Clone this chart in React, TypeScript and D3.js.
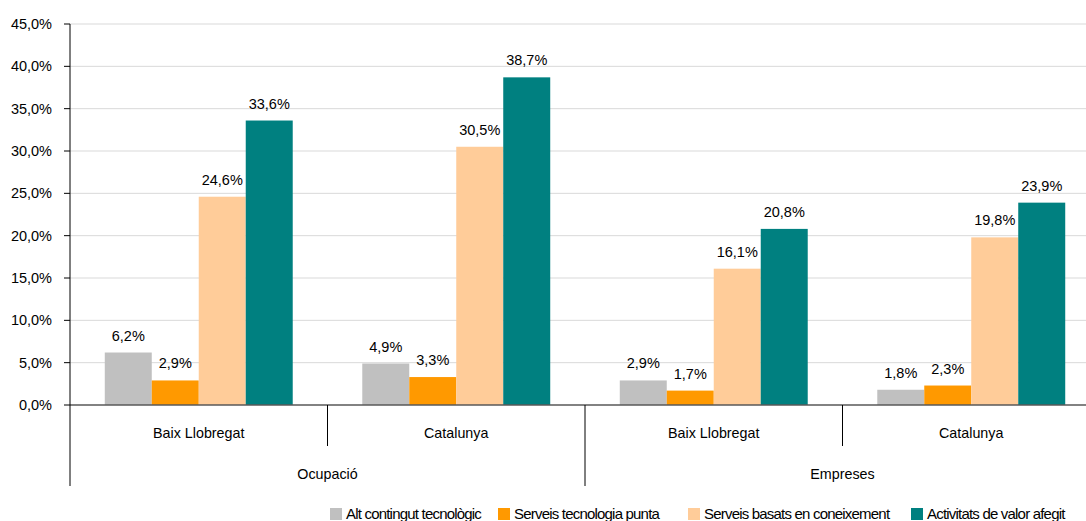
import React from "react";
import * as d3 from "d3";

const groups = ["Ocupació", "Empreses"];
const subcats = ["Baix Llobregat", "Catalunya"];
const series = [
  "Alt contingut tecnològic",
  "Serveis tecnologia punta",
  "Serveis basats en coneixement",
  "Activitats de valor afegit",
];
const colors = ["#c0c0c0", "#ff9900", "#ffcc99", "#008080"];
// values[group][subcat][series]
const ocupacioValues = [
  [6.2, 2.9, 24.6, 33.6],
  [4.9, 3.3, 30.5, 38.7],
];
const empresesValues = [
  [2.9, 1.7, 16.1, 20.8],
  [1.8, 2.3, 19.8, 23.9],
];
const yTicks = [0, 5, 10, 15, 20, 25, 30, 35, 40, 45];

const W = 1086;
const H = 521;
const left = 70;
const right = 1100;
const top = 24;
const bottom = 405;
const font = "'Liberation Sans', Arial, sans-serif";

const fmt = (v: number) => v.toFixed(1).replace(".", ",") + "%";

export default function App() {
  const values = [ocupacioValues, empresesValues];
  const y = d3.scaleLinear().domain([0, 45]).range([bottom, top]);
  const gx = d3.scaleBand<string>().domain(groups).range([left, right]);
  const sx = d3.scaleBand<string>().domain(subcats).range([0, gx.bandwidth()]);
  const bx = d3
    .scaleBand<string>()
    .domain(series)
    .range([0, sx.bandwidth()])
    .paddingInner(0)
    .paddingOuter(0.74);

  return (
    <svg width={W} height={H} style={{ position: "absolute", left: 0, top: 0 }} fontFamily={font}>
      <rect width={W} height={H} fill="#fff" />
      {yTicks.map((t) => (
        <g key={t}>
          {t > 0 && (
            <line x1={left} x2={right} y1={y(t)} y2={y(t)} stroke="#d9d9d9" strokeWidth={1} />
          )}
          <line x1={left - 6} x2={left} y1={y(t)} y2={y(t)} stroke="#000" />
          <text x={52} y={y(t)} dy="0.35em" textAnchor="end" fontSize={14.5} fill="#000">
            {fmt(t)}
          </text>
        </g>
      ))}
      {groups.map((g, gi) =>
        subcats.map((s, si) =>
          series.map((se, k) => {
            const v = values[gi][si][k];
            const x0 = (gx(g) as number) + (sx(s) as number) + (bx(se) as number);
            const w = bx.bandwidth();
            return (
              <g key={g + s + se}>
                <rect x={x0} y={y(v)} width={w} height={bottom - y(v)} fill={colors[k]} />
                <text
                  x={x0 + w / 2}
                  y={y(v) - 12}
                  textAnchor="middle"
                  fontSize={14.5}
                  fill="#000"
                >
                  {fmt(v)}
                </text>
              </g>
            );
          })
        )
      )}
      <line x1={left} x2={right} y1={bottom} y2={bottom} stroke="#595959" strokeWidth={1.5} />
      <line x1={left} x2={left} y1={top} y2={486} stroke="#000" />
      {groups.map((g, gi) => {
        const gx0 = gx(g) as number;
        return (
          <g key={g}>
            {gi > 0 && <line x1={gx0} x2={gx0} y1={bottom} y2={486} stroke="#000" />}
            {subcats.map((s, si) => {
              const sx0 = gx0 + (sx(s) as number);
              return (
                <g key={s}>
                  {si > 0 && <line x1={sx0} x2={sx0} y1={bottom} y2={446} stroke="#000" />}
                  <text
                    x={sx0 + sx.bandwidth() / 2}
                    y={433}
                    dy="0.35em"
                    textAnchor="middle"
                    fontSize={14.3}
                    fill="#000"
                  >
                    {s}
                  </text>
                </g>
              );
            })}
            <text
              x={gx0 + gx.bandwidth() / 2}
              y={474}
              dy="0.35em"
              textAnchor="middle"
              fontSize={14.3}
              fill="#000"
            >
              {g}
            </text>
          </g>
        );
      })}
      {series.map((se, k) => {
        const lx = [330, 498, 688, 911][k];
        return (
          <g key={se}>
            <rect x={lx} y={508} width={12} height={12} fill={colors[k]} />
            <text x={lx + 16} y={519} fontSize={15} fill="#000" letterSpacing={-0.8}>
              {se}
            </text>
          </g>
        );
      })}
    </svg>
  );
}
